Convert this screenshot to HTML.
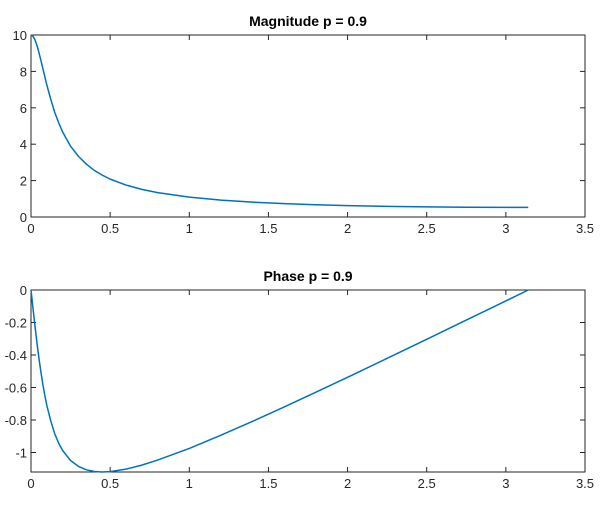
<!DOCTYPE html>
<html><head><meta charset="utf-8"><style>
body{margin:0;background:#fff;}
svg{display:block;font-family:"Liberation Sans",Arial,sans-serif;}
</style></head><body>
<svg id="c" width="612" height="513"></svg>
<script>
const wVals=[0,0.0125,0.025,0.0375,0.05,0.0625,0.075,0.0875,0.1,0.125,0.15,0.175,0.2,0.25,0.3,0.35,0.4,0.45,0.5,0.6,0.7,0.8,1.0,1.2,1.4,1.6,1.8,2.0,2.25,2.5,2.75,3.0,3.1416];
const magVals=[10,9.93,9.73,9.43,9.04,8.61,8.15,7.70,7.26,6.46,5.75,5.17,4.67,3.89,3.33,2.90,2.56,2.30,2.08,1.756,1.519,1.341,1.093,0.929,0.815,0.733,0.671,0.625,0.583,0.555,0.537,0.528,0.526];
const phaseVals=[0,-0.1117,-0.2207,-0.3235,-0.4183,-0.5040,-0.5819,-0.6500,-0.7101,-0.8066,-0.8851,-0.9430,-0.9876,-1.0494,-1.0856,-1.1065,-1.1168,-1.1198,-1.1175,-1.1022,-1.0777,-1.0467,-0.9748,-0.8937,-0.8084,-0.7197,-0.6291,-0.5370,-0.4207,-0.3033,-0.1853,-0.0671,0];
const xTicks=[0,0.5,1,1.5,2,2.5,3,3.5];
const xTickLabels=["0","0.5","1","1.5","2","2.5","3","3.5"];
const magTicks=[0,2,4,6,8,10];
const phaseTicks=[0,-0.2,-0.4,-0.6,-0.8,-1];
const phaseTickLabels=["0","-0.2","-0.4","-0.6","-0.8","-1"];

const svg=document.getElementById('c');
const NS='http://www.w3.org/2000/svg';
function mk(tag,attrs,parent){const e=document.createElementNS(NS,tag);for(const k in attrs)e.setAttribute(k,attrs[k]);(parent||svg).appendChild(e);return e;}

function panel(name,top,bot,ymin,ymax,yTicks,yLabels,ys,title){
  const L=31,R=585;
  const sx=v=>L+(v-0)/3.5*(R-L);
  const sy=v=>bot-(v-ymin)/(ymax-ymin)*(bot-top);
  const g=mk('g',{});
  
  
  const box=mk('rect',{x:L,y:top,width:R-L,height:bot-top,fill:'#fff',stroke:'#262626','stroke-width':1},g);
  
  
  xTicks.forEach((t,i)=>{
    const x=sx(t);
    mk('line',{x1:x,x2:x,y1:bot,y2:bot-5,stroke:'#262626'},g);
    mk('line',{x1:x,x2:x,y1:top,y2:top+5,stroke:'#262626'},g);
    const tx=mk('text',{x:x,y:bot+16,'text-anchor':'middle','font-size':13,fill:'#262626'},g);
    tx.textContent=xTickLabels[i];
    
    
  });
  yTicks.forEach((t,i)=>{
    const y=sy(t);
    mk('line',{x1:L,x2:L+5,y1:y,y2:y,stroke:'#262626'},g);
    mk('line',{x1:R,x2:R-5,y1:y,y2:y,stroke:'#262626'},g);
    const tx=mk('text',{x:L-4,y:y+5,'text-anchor':'end','font-size':13,fill:'#262626'},g);
    tx.textContent=yLabels[i];
    
    
  });
  const d=wVals.map((w,i)=>(i?'L':'M')+sx(w).toFixed(2)+' '+sy(ys[i]).toFixed(2)).join(' ');
  const p=mk('path',{d:d,fill:'none',stroke:'#0072bd','stroke-width':1.5,'stroke-linejoin':'round'},g);
  
  
  const tt=mk('text',{x:(L+R)/2,y:top-9,'text-anchor':'middle','font-size':14,'font-weight':'bold',fill:'#000'},g);
  tt.textContent=title;
  
  
}
panel('magnitude',35,217,0,10,magTicks,magTicks.map(String),magVals,'Magnitude p = 0.9');
panel('phase',290,472,-1.12,0,phaseTicks,phaseTickLabels,phaseVals,'Phase p = 0.9');
</script>
</body></html>
